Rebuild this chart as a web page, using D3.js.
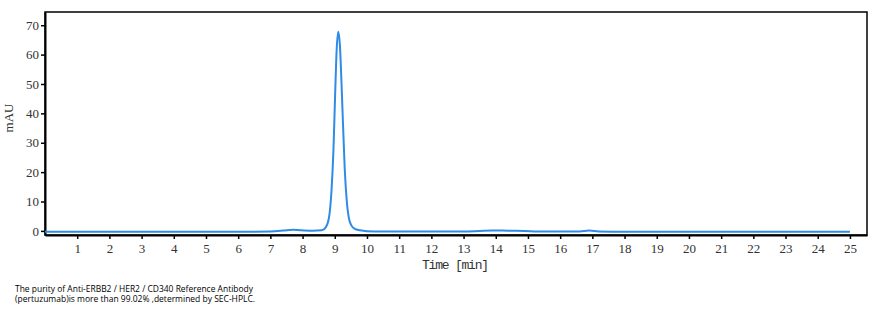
<!DOCTYPE html>
<html>
<head>
<meta charset="utf-8">
<script src="https://cdn.jsdelivr.net/npm/d3@7"></script>
<style>
  body { margin: 0; background: #fff; }
  .axis path, .axis line { stroke: #000; }
</style>
</head>
<body>
<div id="chart"></div>
<script>
// retention time (min) and absorbance (mAU)
var times = [0, 1, 2, 3, 4, 5, 6, 7.0, 7.4, 7.7, 7.95, 8.3, 8.6, 8.72, 8.82, 8.9, 8.96, 9.01, 9.06, 9.11,
  9.16, 9.21, 9.26, 9.31, 9.37, 9.44, 9.52, 9.62, 9.78, 10.0, 10.5, 13.0, 13.5, 13.9, 14.4, 14.9, 15.3,
  16.6, 16.9, 17.2, 18, 20, 25];
var mau = [-0.3, -0.3, -0.3, -0.3, -0.3, -0.3, -0.3, -0.2, 0.1, 0.4, 0.2, 0.05, 0.2, 1.2, 4.5, 14, 28, 46, 62, 67.8,
  63, 50, 35, 21, 10.5, 4.2, 1.8, 0.7, 0.2, -0.1, -0.2, -0.2, 0.0, 0.15, 0.05, 0.0, -0.2,
  -0.2, 0.1, -0.2, -0.3, -0.3, -0.3];
var xTicks = d3.range(1, 26);
var yTicks = [0, 10, 20, 30, 40, 50, 60, 70];

var svgWidth = 880, svgHeight = 314;
var margin = {top: 12, right: 13, bottom: 79, left: 45};
var width = svgWidth - margin.left - margin.right;
var height = svgHeight - margin.top - margin.bottom;
var serif = "'Liberation Serif', 'DejaVu Serif', serif";

var svg = d3.select("#chart").append("svg")
  .attr("width", svgWidth)
  .attr("height", svgHeight);

var chartGroup = svg.append("g")
  .attr("transform", `translate(${margin.left}, ${margin.top})`);

var x = d3.scaleLinear().domain([0, 25.53]).range([0, width]);
var y = d3.scaleLinear().domain([-1.4, 74.5]).range([height, 0]);

// frame (top + right)
chartGroup.append("rect")
  .attr("width", width).attr("height", height)
  .attr("fill", "none").attr("stroke", "#000").attr("stroke-width", 1.5);

var bottomAxis = d3.axisBottom(x).tickValues(xTicks).tickSize(4).tickPadding(5).tickSizeOuter(0);
var leftAxis = d3.axisLeft(y).tickValues(yTicks).tickSize(4).tickPadding(2).tickSizeOuter(0);

chartGroup.append("g").attr("class", "axis")
  .attr("transform", `translate(0, ${height})`)
  .call(bottomAxis)
  .call(g => g.select(".domain").attr("stroke-width", 2))
  .call(g => g.selectAll(".tick line").attr("stroke-width", 1.5))
  .call(g => g.selectAll(".tick text").style("font-family", serif).style("font-size", "13px").attr("fill", "#333"));

chartGroup.append("g").attr("class", "axis")
  .call(leftAxis)
  .call(g => g.select(".domain").attr("stroke-width", 2))
  .call(g => g.selectAll(".tick line").attr("stroke-width", 1.5))
  .call(g => g.selectAll(".tick text").style("font-family", serif).style("font-size", "13px").attr("fill", "#333"));

var pts = times.map((t, i) => ({t: t, v: mau[i]}));
var line = d3.line().x(d => x(d.t)).y(d => y(d.v)).curve(d3.curveMonotoneX);

chartGroup.append("path")
  .datum(pts)
  .attr("d", line)
  .attr("fill", "none")
  .attr("stroke", "#2f8be6")
  .attr("stroke-width", 2);

// axis labels
chartGroup.append("text")
  .attr("transform", `translate(${-32}, ${106}) rotate(-90)`)
  .attr("text-anchor", "middle")
  .style("font-family", serif)
  .style("font-size", "13px")
  .attr("fill", "#333")
  .text("mAU");

chartGroup.append("text")
  .attr("x", x(12.75)).attr("y", height + 34)
  .attr("text-anchor", "middle")
  .attr("textLength", 67)
  .attr("lengthAdjust", "spacing")
  .style("font-family", "'Liberation Mono', monospace")
  .style("font-size", "13px")
  .attr("fill", "#333")
  .text("Time [min]");

// caption
var caption = ["The purity of Anti-ERBB2 / HER2 / CD340 Reference Antibody",
  "(pertuzumab)is more than 99.02% ,determined by SEC-HPLC."];
var capLen = [238, 240];
svg.append("g").selectAll("text")
  .data(caption)
  .enter().append("text")
  .attr("x", 15)
  .attr("y", (d, i) => 291.5 + i * 10.5)
  .attr("textLength", (d, i) => capLen[i])
  .attr("lengthAdjust", "spacingAndGlyphs")
  .style("font-family", "'Open Sans', sans-serif")
  .style("font-size", "8.5px")
  .attr("fill", "#000")
  .text(d => d);
</script>
</body>
</html>
